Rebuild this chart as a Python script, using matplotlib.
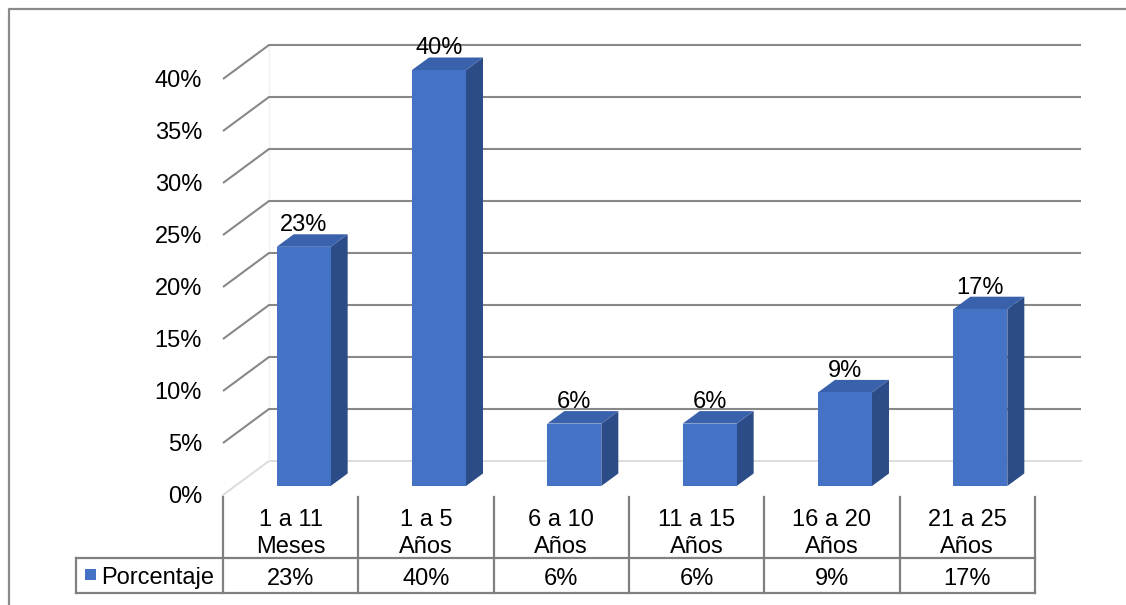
import matplotlib
matplotlib.use("Agg")
import matplotlib.pyplot as plt
from matplotlib.patches import Polygon, Rectangle

plt.rcParams['font.family'] = ['Liberation Sans', 'DejaVu Sans']

# ---- data ----
cat_line1 = ["1 a 11", "1 a 5", "6 a 10", "11 a 15", "16 a 20", "21 a 25"]
cat_line2 = ["Meses", "Años", "Años", "Años", "Años", "Años"]
values = [23, 40, 6, 6, 9, 17]
value_labels = ["23%", "40%", "6%", "6%", "9%", "17%"]
yticks = [0, 5, 10, 15, 20, 25, 30, 35, 40]
ytick_labels = ["0%", "5%", "10%", "15%", "20%", "25%", "30%", "35%", "40%"]
series_name = "Porcentaje"

# ---- style / layout ----
W, H, DPI = 1126, 605, 100
px_x = 135.33          # pixels per category
px_y = 10.4            # pixels per percent
x0_pix, y0_pix = 223, 495
FS = 17
front_c, top_c, side_c = "#4472C4", "#3A62AC", "#2C4C88"
grid_c, table_c, floor_c = "#888888", "#808080", "#dcdcdc"

fig = plt.figure(figsize=(W / DPI, H / DPI), dpi=DPI)
ax = fig.add_axes([0, 0, 1, 1])
ax.set_xlim(-x0_pix / px_x, (W - x0_pix) / px_x)
ax.set_ylim((y0_pix - H) / px_y, y0_pix / px_y)
ax.axis("off")

n = len(values)
wall_dx, wall_dy = 46 / px_x, 34 / px_y        # full depth of the walls
back_right = (1081 - x0_pix) / px_x
bar_off_x, bar_off_y = 13 / px_x, 9 / px_y      # bar front relative to front plane
bar_w = 54 / px_x
bar_dx, bar_dy = 17 / px_x, 12.5 / px_y

# floor (faint)
ax.plot([0, wall_dx, back_right], [0, wall_dy, wall_dy], color=floor_c, lw=1.4, zorder=1)
ax.plot([wall_dx, wall_dx], [wall_dy, yticks[-1] + wall_dy], color="#f0f0f0", lw=1.0, zorder=1)

# gridlines: left wall diagonals + back wall horizontals
for v in yticks[1:]:
    ax.plot([0, wall_dx, back_right], [v, v + wall_dy, v + wall_dy],
            color=grid_c, lw=1.5, zorder=2, solid_capstyle="butt")

# y tick labels
for v, lab in zip(yticks, ytick_labels):
    ax.text((202 - x0_pix) / px_x, v - 0.2, lab, ha="right", va="center",
            fontsize=FS, color="black", zorder=6)

# bars
for i, v in enumerate(values):
    xl = i + 0.5 + bar_off_x - bar_w / 2
    xr = xl + bar_w
    b0 = bar_off_y
    t = b0 + v
    ax.add_patch(Polygon([(xr, b0), (xr + bar_dx, b0 + bar_dy), (xr + bar_dx, t + bar_dy), (xr, t)],
                         closed=True, facecolor=side_c, edgecolor="none", zorder=3))
    ax.add_patch(Polygon([(xl, t), (xr, t), (xr + bar_dx, t + bar_dy), (xl + bar_dx, t + bar_dy)],
                         closed=True, facecolor=top_c, edgecolor="none", zorder=3))
    ax.add_patch(Polygon([(xl, b0), (xr, b0), (xr, t), (xl, t)],
                         closed=True, facecolor=front_c, edgecolor="none", zorder=4))
    ax.text((xl + xr) / 2, t + 15.5 / px_y, value_labels[i], ha="center", va="baseline",
            fontsize=FS, color="black", zorder=7)

# data table
top_v = (y0_pix - 497) / px_y
mid_v = (y0_pix - 558) / px_y
bot_v = (y0_pix - 593) / px_y
leg_left = (76 - x0_pix) / px_x
tkw = dict(color=table_c, lw=1.6, zorder=5, solid_capstyle="projecting")
for k in range(n + 1):
    ax.plot([k, k], [top_v, bot_v], **tkw)
ax.plot([leg_left, n], [mid_v, mid_v], **tkw)
ax.plot([leg_left, n], [bot_v, bot_v], **tkw)
ax.plot([leg_left, leg_left], [mid_v, bot_v], **tkw)

for i in range(n):
    ax.text(i + 0.5, (y0_pix - 526) / px_y, cat_line1[i], ha="center", va="baseline",
            fontsize=FS, zorder=6)
    ax.text(i + 0.5, (y0_pix - 553) / px_y, cat_line2[i], ha="center", va="baseline",
            fontsize=FS, zorder=6)
    ax.text(i + 0.5, (y0_pix - 585) / px_y, value_labels[i], ha="center", va="baseline",
            fontsize=FS, zorder=6)

# legend key in table
ax.add_patch(Rectangle(((85 - x0_pix) / px_x, (y0_pix - 580) / px_y), 11 / px_x, 11 / px_y,
                       facecolor=front_c, edgecolor="none", zorder=6))
ax.text((101 - x0_pix) / px_x, (y0_pix - 584) / px_y, series_name, ha="left", va="baseline",
        fontsize=FS, zorder=6)

# outer chart border (left and top)
bl = (9 - x0_pix) / px_x
bt = (y0_pix - 9) / px_y
ax.plot([bl, bl, (W + 20 - x0_pix) / px_x], [(y0_pix - H - 20) / px_y, bt, bt],
        color="#8a8a8a", lw=1.6, zorder=8, clip_on=False)

fig.savefig("out.png", dpi=DPI)
